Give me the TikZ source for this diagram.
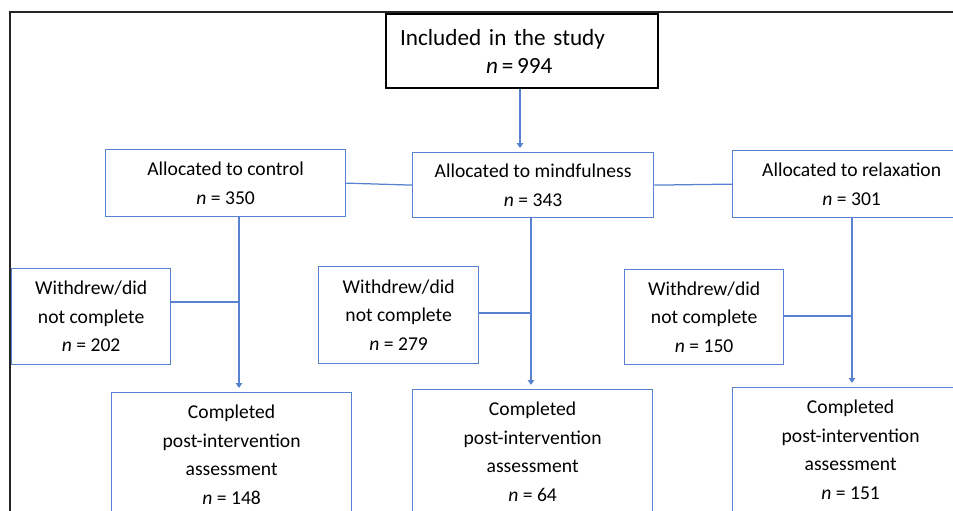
\documentclass[tikz,border=0pt]{standalone}
\usepackage{fontspec}
\setmainfont{Carlito}
\usetikzlibrary{arrows.meta,calc}
\definecolor{boxblue}{RGB}{88,130,208}
\begin{document}
\begin{tikzpicture}[x=1pt,y=-1pt,
  bbox/.style={draw=boxblue, line width=1.25pt, inner sep=0pt, align=center,
    font=\fontsize{19.6}{28.5}\selectfont, anchor=north west},
  conn/.style={draw=boxblue, line width=1.25pt},
  arr/.style={conn, -{Triangle[width=6.5pt,length=5pt]}, shorten >=4pt}]
\useasboundingbox (0,0) rectangle (953,511);
\clip (0,0) rectangle (953,511);
% outer frame
\draw[line width=1.5pt, black!85] (10,540) -- (10,12) -- (990,12);
% top box
\node[draw=black, line width=2pt, anchor=north west, minimum width=272pt,
  minimum height=74pt, text width=244pt, inner xsep=14pt, inner ysep=0pt,
  align=left, font=\fontsize{23.2}{28}\selectfont] (incl) at (385,13)
  {Included in the study\\\hspace*{86pt}\textit{n}\,=\,994};
% allocation boxes
\node[bbox, minimum width=240pt, minimum height=67pt] (ctrl) at (105,149) {Allocated to control\\\textit{n} = 350};
\node[bbox, minimum width=241pt, minimum height=65pt] (mind) at (412,152) {Allocated to mindfulness\\\textit{n} = 343};
\node[bbox, minimum width=238pt, minimum height=67pt] (relax) at (732,150) {Allocated to relaxation\\\textit{n} = 301};
% withdrew boxes
\node[bbox, minimum width=159pt, minimum height=96pt] (wd1) at (11,268) {Withdrew/did\\not complete\\\textit{n} = 202};
\node[bbox, minimum width=160pt, minimum height=97pt] (wd2) at (318,266) {Withdrew/did\\not complete\\\textit{n} = 279};
\node[bbox, minimum width=159pt, minimum height=95pt] (wd3) at (624,269) {Withdrew/did\\not complete\\\textit{n} = 150};
% completed boxes
\node[bbox, minimum width=240pt, minimum height=124pt] (comp1) at (111,392) {Completed\\post-intervention\\assessment\\\textit{n} = 148};
\node[bbox, minimum width=240pt, minimum height=124pt] (comp2) at (412,389) {Completed\\post-intervention\\assessment\\\textit{n} = 64};
\node[bbox, minimum width=236pt, minimum height=124pt] (comp3) at (732,387) {Completed\\post-intervention\\assessment\\\textit{n} = 151};
% connectors
\draw[arr] ([xshift=-2pt]incl.south) -- ([xshift=-2pt]incl.south |- mind.north);
\draw[conn] (ctrl.east) -- (mind.west);
\draw[conn] (mind.east) -- (relax.west);
\coordinate (j1) at (239,302);
\coordinate (j2) at (531,313);
\coordinate (j3) at (852,316);
\draw[arr] (j1 |- ctrl.south) -- (j1 |- comp1.north);
\draw[arr] (j2 |- mind.south) -- (j2 |- comp2.north);
\draw[arr] (j3 |- relax.south) -- (j3 |- comp3.north);
\draw[conn] (j1 -| wd1.east) -- (j1);
\draw[conn] (j2 -| wd2.east) -- (j2);
\draw[conn] (j3 -| wd3.east) -- (j3);
\end{tikzpicture}
\end{document}
